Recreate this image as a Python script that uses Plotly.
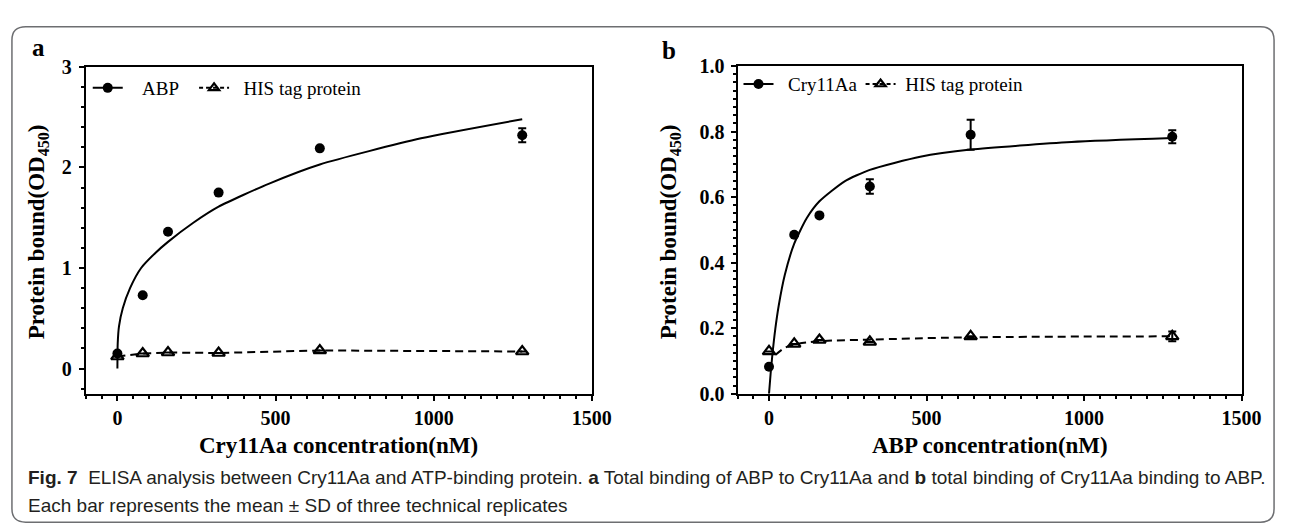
import plotly.graph_objects as go

# ---------------- data ----------------
conc = [0, 80, 160, 320, 640, 1280]

# panel a
abp_y = [0.15, 0.73, 1.36, 1.75, 2.19, 2.32]
abp_err = [0.0, 0.0, 0.0, 0.0, 0.0, 0.07]
his_a_y = [0.12, 0.15, 0.16, 0.155, 0.18, 0.17]
fit_a_x = [0, 1, 5, 17, 40, 75, 120, 160, 240, 320, 480, 640, 960, 1280]
fit_a_y = [0, 0.25, 0.42, 0.6, 0.8, 1.0, 1.15, 1.26, 1.45, 1.61, 1.84, 2.03, 2.29, 2.48]

# panel b
cry_y = [0.082, 0.485, 0.544, 0.632, 0.79, 0.784]
cry_err = [0.0, 0.0, 0.0, 0.022, 0.046, 0.02]
his_b_y = [0.129, 0.152, 0.164, 0.158, 0.175, 0.175]
his_b_err = [0.0, 0.0, 0.0, 0.0, 0.0, 0.015]
fit_b_x = [0, 5, 10, 20, 31, 50, 80, 120, 160, 240, 320, 480, 640, 960, 1280]
fit_b_y = [0, 0.06, 0.112, 0.198, 0.27, 0.362, 0.458, 0.536, 0.587, 0.648, 0.683, 0.723, 0.745, 0.768, 0.780]
hisfit_b_x = [20, 50, 80, 160, 320, 640, 1280]
hisfit_b_y = [0.118, 0.14, 0.15, 0.16, 0.165, 0.172, 0.175]

x_ticks = [0, 500, 1000, 1500]
x_labels = ["0", "500", "1000", "1500"]
ya_ticks = [0, 1, 2, 3]
ya_labels = ["0", "1", "2", "3"]
yb_ticks = [0.0, 0.2, 0.4, 0.6, 0.8, 1.0]
yb_labels = ["0.0", "0.2", "0.4", "0.6", "0.8", "1.0"]

# ---------------- layout helpers ----------------
W, H = 1290, 528
def px(x): return x / W
def py(y): return 1 - y / H
def bold(lst): return [f"<b>{t}</b>" for t in lst]

SERIF = "Liberation Serif, Times New Roman, serif"
SANS = "Liberation Sans Narrow, Arial Narrow, Liberation Sans, sans-serif"
DASH = "8px,5px"
NB = "\u00a0"

fig = go.Figure()

def add_panel(xa, ya, leg1, leg2, fit_x, fit_y, dx, dy, derr, name_main, name_his, hx, hy, herr, hfx=None, hfy=None):
    fig.add_trace(go.Scatter(x=fit_x, y=fit_y, mode="lines", line=dict(color="black", width=2, shape="spline", smoothing=0.6),
                             xaxis=xa, yaxis=ya, showlegend=False, hoverinfo="skip"))
    if hfx is None:
        fig.add_trace(go.Scatter(x=hx, y=hy, mode="lines", line=dict(color="black", width=2, dash=DASH),
                                 xaxis=xa, yaxis=ya, showlegend=False, hoverinfo="skip"))
    else:
        fig.add_trace(go.Scatter(x=hfx, y=hfy, mode="lines", line=dict(color="black", width=2, dash=DASH, shape="spline"),
                                 xaxis=xa, yaxis=ya, showlegend=False, hoverinfo="skip"))
    fig.add_trace(go.Scatter(x=hx, y=hy, mode="markers",
                             marker=dict(symbol="triangle-up-open", size=11, color="black", line=dict(width=2.2)),
                             error_y=dict(type="data", array=herr, color="black", thickness=2, width=4),
                             xaxis=xa, yaxis=ya, showlegend=False))
    fig.add_trace(go.Scatter(x=dx, y=dy, mode="markers",
                             marker=dict(symbol="circle", size=10, color="black"),
                             error_y=dict(type="data", array=derr, color="black", thickness=2, width=4),
                             xaxis=xa, yaxis=ya, showlegend=False))
    fig.add_trace(go.Scatter(x=[None], y=[None], mode="lines+markers", name=name_main,
                             line=dict(color="black", width=2), marker=dict(symbol="circle", size=10, color="black"),
                             xaxis=xa, yaxis=ya, legend=leg1))
    fig.add_trace(go.Scatter(x=[None], y=[None], mode="lines+markers", name=name_his,
                             line=dict(color="black", width=2, dash="4px,3px"),
                             marker=dict(symbol="triangle-up-open", size=9, color="black", line=dict(width=2.2)),
                             xaxis=xa, yaxis=ya, legend=leg2))

add_panel("x", "y", "legend", "legend2", fit_a_x, fit_a_y, conc, abp_y, abp_err,
          NB * 3 + "ABP", NB * 2 + "HIS tag protein", conc, his_a_y, [0]*6)
add_panel("x2", "y2", "legend3", "legend4", fit_b_x, fit_b_y, conc, cry_y, cry_err,
          NB * 2 + "Cry11Aa", NB + "HIS tag protein", conc, his_b_y, his_b_err, hisfit_b_x, hisfit_b_y)

tickfont = dict(family=SERIF, size=20, color="black")
common = dict(showline=True, linewidth=2, linecolor="black", mirror=True, showgrid=False, zeroline=False,
              ticks="outside", ticklen=5, tickwidth=2, tickcolor="black", tickfont=tickfont)
minor_x = dict(ticks="outside", dtick=50, ticklen=3, tickwidth=1.5, tickcolor="black")

def leg(x, y):
    return dict(x=px(x), y=py(y), xanchor="left", yanchor="middle", orientation="h",
                font=dict(family=SERIF, size=19, color="black"), bgcolor="rgba(0,0,0,0)", itemwidth=30)

fig.update_layout(
    width=W, height=H, margin=dict(l=0, r=0, t=0, b=0),
    paper_bgcolor="white", plot_bgcolor="white",
    xaxis=dict(domain=[px(79), px(593)], range=[-100, 1500], anchor="y", tickvals=x_ticks, ticktext=bold(x_labels),
               minor=minor_x, **common),
    yaxis=dict(domain=[py(391), py(50)], range=[-0.25, 3], anchor="x", tickvals=ya_ticks, ticktext=bold(ya_labels),
               ticklabelstandoff=3,
               minor=dict(ticks="outside", dtick=0.2, ticklen=3, tickwidth=1.5, tickcolor="black"), **common),
    xaxis2=dict(domain=[px(741), px(1253)], range=[-100, 1500], anchor="y2", tickvals=x_ticks, ticktext=bold(x_labels),
                minor=minor_x, **common),
    yaxis2=dict(domain=[py(391), py(49)], range=[0, 1.0], anchor="x2", tickvals=yb_ticks, ticktext=bold(yb_labels),
                ticklabelstandoff=2,
                minor=dict(ticks="outside", dtick=0.025, ticklen=3, tickwidth=1.5, tickcolor="black"), **common),
    legend=leg(81, 72),
    legend2=leg(189, 72),
    legend3=leg(742, 68),
    legend4=leg(866, 68),
)

ann = []
def a(text, x, y, size, family=SERIF, angle=0, xanchor="center", color="black"):
    ann.append(dict(text=text, x=px(x), y=py(y), xref="paper", yref="paper", showarrow=False,
                    xanchor=xanchor, yanchor="middle", textangle=angle,
                    font=dict(family=family, size=size, color=color)))

a("<b>Cry11Aa concentration(nM)</b>", 336, 445, 23)
a("<b>ABP concentration(nM)</b>", 997, 445, 23)
a("<b>Protein bound(OD<sub>450</sub>)</b>", 30, 222, 23, angle=-90)
a("<b>Protein bound(OD<sub>450</sub>)</b>", 672, 222, 23, angle=-90)
a("<b>a</b>", 31, 30, 25)
a("<b>b</b>", 671, 33, 25)
a("<b>Fig. 7</b>  ELISA analysis between Cry11Aa and ATP-binding protein. <b>a</b> Total binding of ABP to Cry11Aa and "
  "<b>b</b> total binding of Cry11Aa binding to ABP.", 18, 478, 19, family=SANS, xanchor="left", color="#231f20")
a("Each bar represents the mean ± SD of three technical replicates", 18, 508, 19, family=SANS, xanchor="left",
  color="#231f20")
fig.update_layout(annotations=ann)

# rounded frame
r = 14
x0, y0, x1, y1 = 4, 8, 1286, 525
path = (f"M {px(x0+r)},{py(y0)} L {px(x1-r)},{py(y0)} Q {px(x1)},{py(y0)} {px(x1)},{py(y0+r)} "
        f"L {px(x1)},{py(y1-r)} Q {px(x1)},{py(y1)} {px(x1-r)},{py(y1)} "
        f"L {px(x0+r)},{py(y1)} Q {px(x0)},{py(y1)} {px(x0)},{py(y1-r)} "
        f"L {px(x0)},{py(y0+r)} Q {px(x0)},{py(y0)} {px(x0+r)},{py(y0)} Z")
fig.add_shape(type="path", path=path, xref="paper", yref="paper", line=dict(color="#6d6e71", width=1.5),
              fillcolor="rgba(0,0,0,0)")

fig.write_html("out.html")
